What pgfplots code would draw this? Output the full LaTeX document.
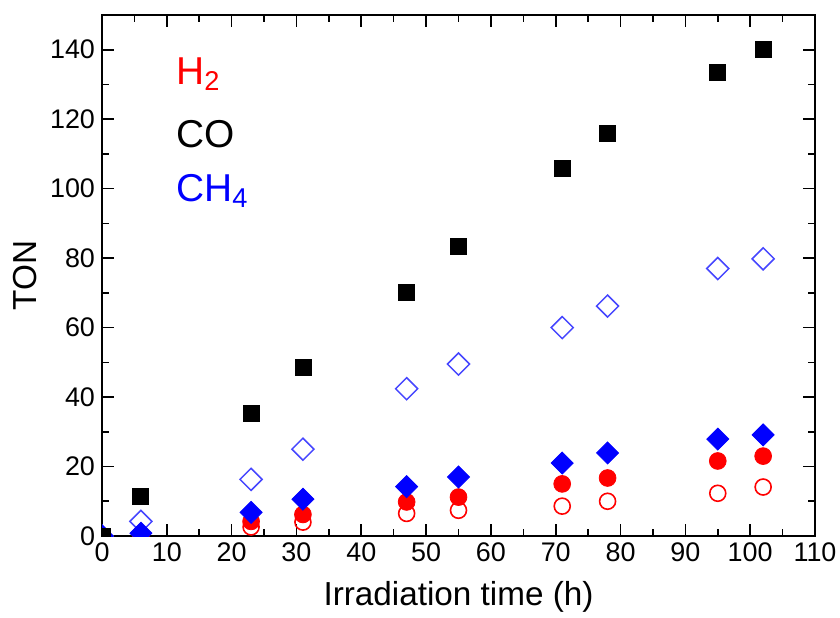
\documentclass[border=0pt]{standalone}
\usepackage{fontspec}
\setmainfont{Liberation Sans}
\usepackage{pgfplots}
\pgfplotsset{compat=1.18}
\definecolor{hred}{RGB}{255,0,0}
\definecolor{cblue}{RGB}{0,0,255}
\definecolor{lblue}{RGB}{70,70,255}

\begin{document}
\begin{tikzpicture}
\begin{axis}[
    scale only axis,
    width=356.5bp, height=260.5bp,
    xmin=0, xmax=110, ymin=0, ymax=150,
    xtick={0,10,...,110}, ytick={0,20,...,140},
    minor x tick num=1, minor y tick num=1,
    tick align=inside,
    major tick length=6bp, minor tick length=3.5bp,
    axis line style={line width=1bp},
    every tick/.style={black, line width=0.8bp},
    /pgf/number format/assume math mode=true,
    tick label style={font=\fontsize{13.5}{15}\selectfont},
    xlabel={Irradiation time (h)}, ylabel={TON},
    label style={font=\fontsize{16.7}{18}\selectfont},
    xlabel style={at={(axis description cs:0.5,-0.117)}, anchor=center},
    ylabel style={at={(axis description cs:-0.108,0.5)}, anchor=center},
    clip marker paths=true,
]
% H2 open circles
\addplot[only marks, mark=o, mark size=4bp, mark options={draw=hred, line width=0.8bp}] coordinates {
    (0,0)(6,0.2)(23,2.6)(31,4)(47,6.5)(55,7.4)(71,8.6)(78,10)(95,12.3)(102,14.1)
};
% H2 filled circles
\addplot[only marks, mark=*, mark size=4.2bp, mark options={draw=hred, fill=hred}] coordinates {
    (0,0)(6,0.5)(23,4.2)(31,6.2)(47,9.8)(55,11.2)(71,15)(78,16.7)(95,21.6)(102,23)
};
% CH4 open diamonds
\addplot[only marks, mark=square, mark size=3.9bp, mark options={rotate=45, draw=lblue, line width=0.75bp}] coordinates {
    (0,0)(6,4.2)(23,16.3)(31,25)(47,42.4)(55,49.5)(71,60)(78,66.2)(95,77)(102,79.8)
};
% CH4 filled diamonds
\addplot[only marks, mark=square*, mark size=3.9bp, mark options={rotate=45, draw=cblue, fill=cblue}] coordinates {
    (0,0)(6,0.8)(23,6.8)(31,10.6)(47,14.2)(55,17)(71,21)(78,23.9)(95,27.9)(102,29.1)
};
% CO filled squares
\addplot[only marks, mark=square*, mark size=4bp, mark options={draw=black, fill=black}] coordinates {
    (0,0)(6,11.5)(23,35.3)(31,48.6)(47,70)(55,83.5)(71,105.8)(78,116)(95,133.6)(102,140)
};
\node[anchor=base west, inner sep=0pt, text=hred, font=\fontsize{19.5}{21}\selectfont] at (axis cs:11.4,130) {H\textsubscript{2}};
\node[anchor=base west, inner sep=0pt, text=black, font=\fontsize{19.5}{21}\selectfont] at (axis cs:11.4,111.8) {CO};
\node[anchor=base west, inner sep=0pt, text=cblue, font=\fontsize{19.5}{21}\selectfont] at (axis cs:11.4,96.3) {CH\textsubscript{4}};
\end{axis}
\pgfresetboundingbox
\path[use as bounding box] ([shift={(-51bp,-41bp)}]current axis.south west) rectangle ([shift={(12.5bp,7.5bp)}]current axis.north east);
\end{tikzpicture}
\end{document}
